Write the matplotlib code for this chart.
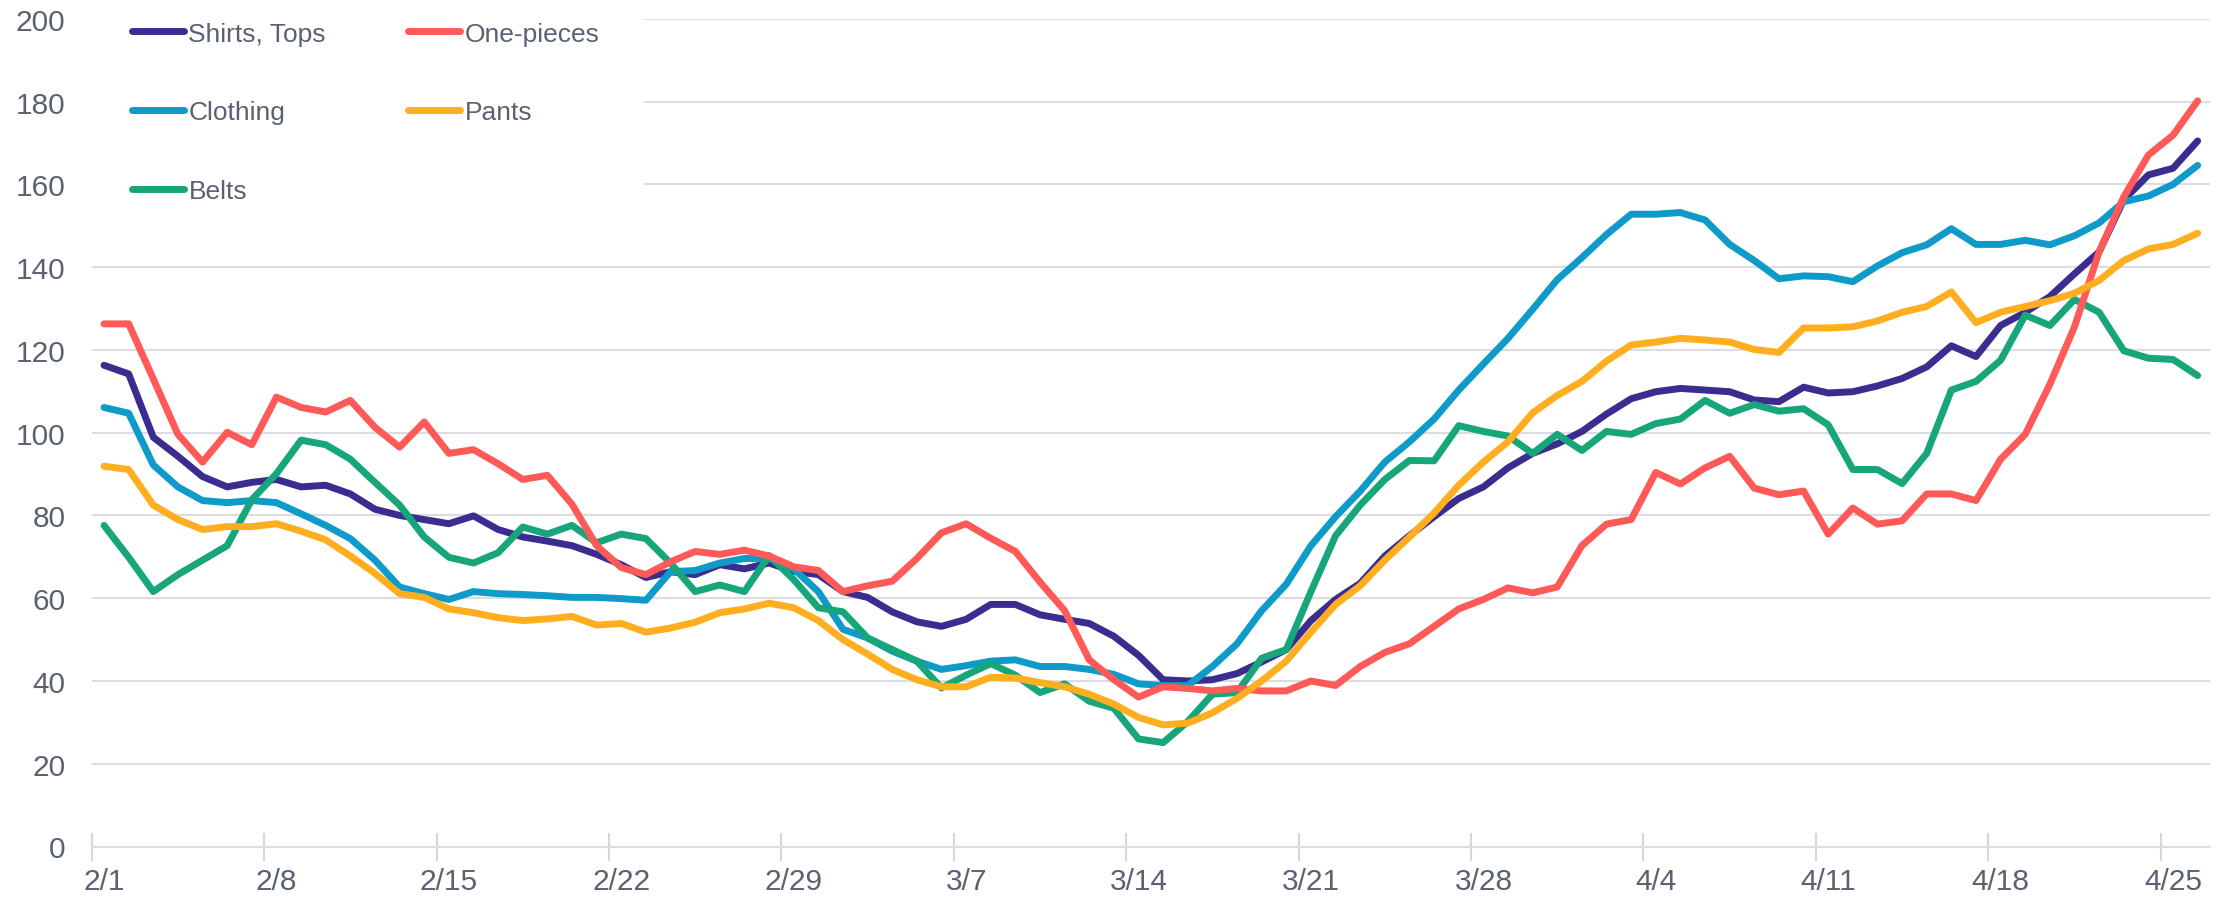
import numpy as np
import matplotlib
matplotlib.use('Agg')
import matplotlib.pyplot as plt
from matplotlib.ticker import FixedLocator

# daily index, 2/1 .. 4/26 (2020)
tick_labels = ['2/1', '2/8', '2/15', '2/22', '2/29', '3/7', '3/14',
               '3/21', '3/28', '4/4', '4/11', '4/18', '4/25']

shirts_tops = [116.3, 114.2, 98.9, 94.3, 89.4, 86.9, 88.0, 88.7, 86.9, 87.3,
               85.2, 81.5, 80.0, 79.0, 78.0, 79.9, 76.6, 74.8, 73.8, 72.7,
               70.6, 68.1, 65.0, 66.4, 65.7, 68.1, 67.1, 68.5, 66.5, 65.7,
               61.6, 60.2, 56.7, 54.3, 53.2, 54.9, 58.5, 58.5, 56.0, 54.9,
               53.9, 50.8, 46.2, 40.3, 40.0, 40.3, 41.8, 44.6, 47.6, 54.6,
               59.7, 63.6, 70.2, 75.1, 79.7, 84.1, 86.9, 91.5, 95.0, 97.3,
               100.3, 104.5, 108.2, 109.9, 110.7, 110.3, 109.9, 107.9, 107.5, 111.0,
               109.6, 109.9, 111.3, 113.1, 115.9, 121.0, 118.4, 125.9, 129.1, 132.9,
               138.4, 143.7, 156.3, 162.3, 163.9, 170.5]

one_pieces = [126.3, 126.3, 113.0, 99.6, 92.9, 100.1, 97.1, 108.6, 106.1, 105.0,
              107.8, 101.3, 96.5, 102.6, 95.0, 95.9, 92.5, 88.7, 89.7, 82.7,
              72.7, 67.4, 65.7, 68.8, 71.3, 70.6, 71.6, 70.2, 67.6, 66.7,
              61.6, 63.0, 64.1, 69.6, 75.8, 78.0, 74.5, 71.3, 63.9, 57.0,
              45.1, 40.3, 36.1, 38.6, 38.2, 37.6, 38.2, 37.6, 37.6, 40.0,
              38.9, 43.5, 46.9, 49.0, 53.2, 57.4, 59.7, 62.5, 61.3, 62.7,
              72.7, 77.9, 79.0, 90.4, 87.6, 91.5, 94.3, 86.6, 85.0, 85.9,
              75.5, 81.8, 77.9, 78.7, 85.2, 85.2, 83.6, 93.6, 99.6, 111.7,
              125.6, 143.7, 157.0, 167.1, 171.9, 180.2]

clothing = [106.1, 104.7, 92.2, 86.9, 83.6, 83.1, 83.6, 83.1, 80.4, 77.6,
            74.4, 69.2, 62.7, 61.1, 59.7, 61.6, 61.1, 60.9, 60.6, 60.2,
            60.2, 59.9, 59.5, 66.4, 66.7, 68.5, 69.6, 69.6, 67.1, 61.6,
            52.5, 50.4, 47.2, 44.8, 42.8, 43.7, 44.8, 45.1, 43.5, 43.5,
            42.8, 41.6, 39.3, 38.9, 38.9, 43.5, 49.0, 57.0, 63.4, 72.7,
            79.7, 85.9, 92.9, 97.8, 103.3, 110.3, 116.6, 122.8, 129.8, 137.0,
            142.3, 147.9, 152.8, 152.8, 153.2, 151.4, 145.5, 141.6, 137.2, 137.9,
            137.7, 136.5, 140.3, 143.5, 145.4, 149.3, 145.5, 145.5, 146.5, 145.4,
            147.6, 150.7, 155.8, 157.2, 160.0, 164.6]

pants = [91.9, 91.1, 82.5, 79.0, 76.6, 77.3, 77.3, 78.0, 76.2, 74.1,
         70.2, 66.0, 61.1, 60.2, 57.4, 56.5, 55.3, 54.6, 55.0, 55.6,
         53.5, 53.9, 51.8, 52.8, 54.2, 56.5, 57.4, 58.8, 57.7, 54.6,
         50.0, 46.5, 42.8, 40.3, 38.6, 38.6, 40.9, 40.7, 39.6, 38.6,
         36.8, 34.4, 31.2, 29.4, 29.8, 32.3, 35.8, 40.0, 44.8, 51.8,
         58.5, 63.0, 69.2, 74.8, 80.6, 87.3, 92.9, 97.8, 104.8, 109.0,
         112.4, 117.3, 121.2, 121.9, 122.8, 122.4, 121.9, 120.1, 119.4, 125.3,
         125.3, 125.6, 127.0, 129.1, 130.5, 134.0, 126.6, 129.1, 130.5, 131.9,
         133.7, 136.8, 141.6, 144.4, 145.5, 148.2]

belts = [77.6, 69.9, 61.6, 65.7, 69.2, 72.7, 83.8, 90.1, 98.2, 97.1,
         93.6, 88.0, 82.5, 74.8, 69.9, 68.5, 71.0, 77.2, 75.5, 77.6,
         73.4, 75.5, 74.4, 68.5, 61.6, 63.2, 61.6, 70.3, 64.5, 57.7,
         56.7, 50.4, 47.6, 44.8, 38.3, 41.4, 44.2, 41.4, 37.2, 39.3,
         35.1, 33.4, 26.0, 25.1, 30.2, 36.8, 37.2, 45.5, 47.6, 61.6,
         75.1, 82.5, 88.7, 93.3, 93.2, 101.7, 100.3, 99.2, 95.0, 99.6,
         95.7, 100.3, 99.6, 102.2, 103.3, 107.8, 104.7, 106.8, 105.2, 105.8,
         101.9, 91.1, 91.1, 87.7, 95.0, 110.3, 112.4, 117.5, 128.4, 125.9,
         132.2, 129.1, 119.8, 118.0, 117.7, 113.8]

series = [
    ('Shirts, Tops', shirts_tops, '#3a2d8f'),
    ('Clothing', clothing, '#0e9bc9'),
    ('Belts', belts, '#17a57a'),
    ('One-pieces', one_pieces, '#ff5a57'),
    ('Pants', pants, '#ffae1f'),
]

text_col = '#5a6170'
plt.rcParams['font.family'] = ['Liberation Sans', 'DejaVu Sans']

fig = plt.figure(figsize=(22.26, 9.04), dpi=100)
ax = fig.add_axes([0.0412, 0.0625, 0.9516, 0.9155])

x = np.arange(len(shirts_tops))
for name, vals, col in series:
    ax.plot(x, vals, color=col, lw=5, label=name, solid_joinstyle='round',
            solid_capstyle='round')

ax.set_xlim(-0.5, len(x) - 0.5)
ax.set_ylim(0, 200)
ax.set_yticks(np.arange(0, 201, 20))
ax.yaxis.grid(True, color='#dcdde2', lw=1.5)
ax.set_axisbelow(True)

ax.set_xticks(np.arange(0, len(tick_labels) * 7, 7))
ax.set_xticklabels(tick_labels)
ax.xaxis.set_minor_locator(FixedLocator(np.arange(-0.5, 84, 7)))
ax.tick_params(axis='x', which='major', length=0, pad=15, labelsize=21.5,
               labelcolor=text_col)
ax.tick_params(axis='x', which='minor', length=20, width=1.5,
               direction='inout', color='#d5d7dd')
ax.tick_params(axis='y', length=0, pad=19, labelsize=21.5, labelcolor=text_col)

for s in ['top', 'right', 'left']:
    ax.spines[s].set_visible(False)
ax.spines['bottom'].set_color('#dcdde2')
ax.spines['bottom'].set_linewidth(1.5)

leg = ax.legend(loc='upper left', bbox_to_anchor=(0.039, 1.0245),
                bbox_transform=fig.transFigure, ncol=2, fontsize=19,
                frameon=True, borderpad=1.7, handlelength=2.0,
                handletextpad=0.15, columnspacing=3.1, labelspacing=2.07,
                borderaxespad=0)
frame = leg.get_frame()
frame.set_facecolor('white')
frame.set_edgecolor('none')
frame.set_alpha(1)
for t in leg.get_texts():
    t.set_color(text_col)

fig.savefig('out.png', dpi=100)
